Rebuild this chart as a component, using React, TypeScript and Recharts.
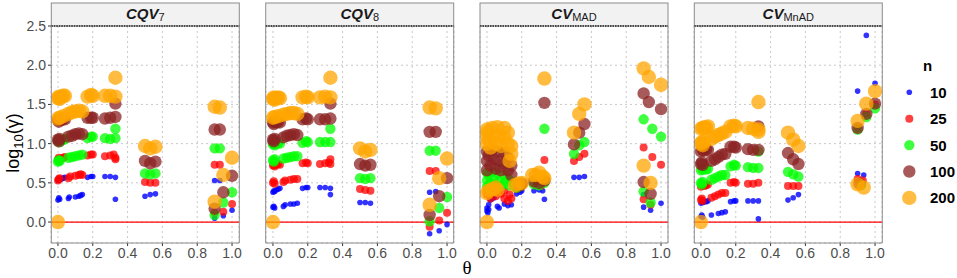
import React from 'react'
import {
  ScatterChart,
  Scatter,
  XAxis,
  YAxis,
  CartesianGrid,
  ReferenceLine,
} from 'recharts'

type Pt = [number, number]

const thetaTicks = [0, 0.2, 0.4, 0.6, 0.8, 1.0]
const logTicks = [0, 0.5, 1.0, 1.5, 2.0, 2.5]
const sampleSizes = [10, 25, 50, 100, 200]

// CQV7
const cqv7N10: Pt[] = [[0,0.53],[0.005,0.55],[0.01,0.54],[0.02,0.55],[0.03,0.56],[0.04,0.57],[0,0.28],[0.005,0.31],[0.01,0.29],[0.06,0.30],[0.065,0.32],[0.1,0.32],[0.12,0.33],[0.13,0.34],[0.14,0.35],[0.17,0.57],[0.19,0.58],[0.2,0.58],[0.27,0.58],[0.3,0.58],[0.33,0.57],[0.33,0.29],[0.5,0.33],[0.53,0.35],[0.56,0.36],[0.9,0.53],[0.93,0.53],[0.9,0.05],[0.95,0.08],[1.0,0.15]]
const cqv7N25: Pt[] = [[0,0.8],[0.005,0.82],[0.01,0.79],[0.02,0.81],[0.03,0.82],[0.04,0.83],[0,0.53],[0.005,0.55],[0.01,0.56],[0.06,0.56],[0.07,0.58],[0.1,0.59],[0.12,0.6],[0.13,0.61],[0.14,0.6],[0.17,0.85],[0.19,0.86],[0.2,0.86],[0.27,0.84],[0.3,0.85],[0.32,0.86],[0.33,0.82],[0.33,0.8],[0.5,0.51],[0.53,0.5],[0.56,0.5],[0.9,0.73],[0.93,0.73],[0.9,0.12],[0.95,0.13],[1.0,0.23]]
const cqv7N50: Pt[] = [[0,1.03],[0.005,1.05],[0.01,1.02],[0.02,1.04],[0.03,1.05],[0.04,1.06],[0,0.77],[0.005,0.79],[0.01,0.78],[0.06,0.82],[0.08,0.83],[0.1,0.84],[0.12,0.85],[0.14,0.86],[0.17,1.07],[0.19,1.09],[0.2,1.09],[0.27,1.07],[0.3,1.06],[0.33,1.07],[0.33,1.19],[0.5,0.62],[0.53,0.61],[0.56,0.62],[0.9,0.94],[0.93,0.94],[0.9,0.09],[0.95,0.25],[1.0,0.38]]
const cqv7N100: Pt[] = [[0,1.3],[0.005,1.28],[0.01,1.31],[0.02,1.3],[0.03,1.32],[0.04,1.31],[0,1.05],[0.005,1.03],[0.01,1.06],[0.06,1.09],[0.08,1.1],[0.1,1.12],[0.12,1.13],[0.14,1.12],[0.17,1.33],[0.19,1.33],[0.2,1.33],[0.27,1.32],[0.3,1.33],[0.33,1.34],[0.33,1.51],[0.5,0.78],[0.53,0.75],[0.56,0.77],[0.9,1.18],[0.93,1.18],[0.9,0.17],[0.95,0.38],[1.0,0.59]]
const cqv7N200: Pt[] = [[0,1.58],[0.005,1.6],[0.01,1.57],[0.02,1.6],[0.03,1.61],[0.04,1.61],[0,1.32],[0.01,1.33],[0.03,1.35],[0.06,1.38],[0.08,1.4],[0.1,1.41],[0.12,1.42],[0.14,1.41],[0.17,1.6],[0.19,1.62],[0.2,1.61],[0.27,1.61],[0.3,1.61],[0.33,1.6],[0.33,1.84],[0,0],[0.5,0.97],[0.53,0.94],[0.56,0.96],[0.9,1.47],[0.93,1.46],[0.9,0.26],[0.95,0.6],[1.0,0.82]]

// CQV8
const cqv8N10: Pt[] = [[0,0.38],[0.005,0.4],[0.01,0.39],[0.02,0.41],[0.03,0.42],[0.04,0.43],[0,0.19],[0.005,0.2],[0.01,0.18],[0.06,0.2],[0.07,0.22],[0.1,0.23],[0.12,0.23],[0.14,0.24],[0.17,0.43],[0.19,0.44],[0.2,0.44],[0.27,0.44],[0.3,0.44],[0.33,0.43],[0.33,0.35],[0.5,0.25],[0.53,0.25],[0.56,0.24],[0.9,0.38],[0.935,0.39],[0.9,-0.15],[0.955,-0.11],[1.0,-0.03]]
const cqv8N25: Pt[] = [[0,0.72],[0.005,0.73],[0.01,0.71],[0.02,0.73],[0.03,0.74],[0.04,0.73],[0,0.5],[0.005,0.52],[0.01,0.49],[0.06,0.51],[0.07,0.53],[0.1,0.54],[0.12,0.55],[0.14,0.55],[0.17,0.75],[0.19,0.76],[0.2,0.75],[0.27,0.74],[0.3,0.75],[0.32,0.76],[0.33,0.8],[0.33,0.74],[0.5,0.42],[0.53,0.41],[0.56,0.4],[0.9,0.65],[0.935,0.65],[0.9,-0.06],[0.955,0.02],[1.0,0.12]]
const cqv8N50: Pt[] = [[0,0.99],[0.005,1.0],[0.01,0.98],[0.02,1.0],[0.03,1.01],[0.04,1.0],[0,0.79],[0.005,0.77],[0.01,0.8],[0.06,0.81],[0.08,0.82],[0.1,0.83],[0.12,0.84],[0.14,0.84],[0.17,1.01],[0.19,1.03],[0.2,1.02],[0.27,1.02],[0.3,1.02],[0.33,1.02],[0.33,1.19],[0.5,0.56],[0.53,0.55],[0.56,0.56],[0.9,0.91],[0.935,0.91],[0.9,0.01],[0.955,0.18],[1.0,0.32]]
const cqv8N100: Pt[] = [[0,1.27],[0.005,1.25],[0.01,1.28],[0.02,1.27],[0.03,1.28],[0.04,1.27],[0,1.05],[0.005,1.03],[0.01,1.06],[0.06,1.08],[0.08,1.1],[0.1,1.11],[0.12,1.12],[0.14,1.11],[0.17,1.31],[0.19,1.32],[0.2,1.31],[0.27,1.31],[0.3,1.31],[0.33,1.32],[0.33,1.51],[0.5,0.74],[0.53,0.72],[0.56,0.73],[0.9,1.15],[0.935,1.15],[0.9,0.09],[0.955,0.33],[1.0,0.56]]
const cqv8N200: Pt[] = [[0,1.57],[0.005,1.59],[0.01,1.56],[0.02,1.58],[0.03,1.59],[0.04,1.58],[0,1.33],[0.01,1.34],[0.03,1.35],[0.06,1.37],[0.08,1.38],[0.1,1.39],[0.12,1.39],[0.14,1.38],[0.17,1.59],[0.19,1.6],[0.2,1.59],[0.27,1.59],[0.3,1.6],[0.33,1.59],[0.33,1.84],[0,0],[0.5,0.94],[0.53,0.9],[0.56,0.92],[0.9,1.46],[0.935,1.45],[0.9,0.22],[0.955,0.56],[1.0,0.81]]

// CV MAD
const madN10: Pt[] = [[0,0.18],[0,0.14],[0.005,0.12],[0.01,0.16],[0.01,0.22],[0.02,0.28],[0.03,0.3],[0.04,0.31],[0.06,0.2],[0.07,0.18],[0.1,0.23],[0.12,0.21],[0.14,0.22],[0.17,0.36],[0.19,0.38],[0.2,0.4],[0.27,0.4],[0.3,0.41],[0.32,0.4],[0.33,0.29],[0.5,0.57],[0.53,0.57],[0.56,0.58],[0.9,0.35],[0.9,0.19],[0.94,0.15],[1.0,0.24]]
const madN25: Pt[] = [[0,0.42],[0,0.35],[0.01,0.4],[0.02,0.3],[0.03,0.38],[0.05,0.33],[0.06,0.42],[0.08,0.36],[0.1,0.3],[0.1,0.4],[0.12,0.27],[0.13,0.35],[0.14,0.3],[0.17,0.42],[0.19,0.44],[0.28,0.47],[0.31,0.46],[0.33,0.79],[0.5,0.78],[0.53,0.83],[0.56,0.87],[0.9,0.95],[0.95,0.83],[1.0,0.73],[0.9,0.29],[0.94,0.22]]
const madN50: Pt[] = [[0,0.63],[0,0.53],[0,0.45],[0.01,0.6],[0.02,0.5],[0.03,0.64],[0.04,0.55],[0.05,0.47],[0.06,0.62],[0.07,0.52],[0.08,0.46],[0.1,0.6],[0.1,0.5],[0.12,0.56],[0.13,0.47],[0.14,0.52],[0.17,0.44],[0.19,0.46],[0.27,0.48],[0.3,0.47],[0.33,0.5],[0.33,1.19],[0.5,0.87],[0.53,0.98],[0.56,1.02],[0.9,1.31],[0.95,1.19],[1.0,1.09],[0.9,0.39],[0.94,0.25]]
const madN100: Pt[] = [[0,0.9],[0,0.78],[0,0.66],[0.01,0.85],[0.02,0.72],[0.03,0.92],[0.04,0.8],[0.05,0.68],[0.06,0.9],[0.07,0.78],[0.08,0.66],[0.1,0.88],[0.1,0.75],[0.12,0.82],[0.12,0.66],[0.14,0.72],[0.14,0.6],[0.19,0.47],[0.2,0.49],[0.27,0.52],[0.3,0.5],[0.33,0.53],[0.33,1.52],[0.5,0.99],[0.53,1.14],[0.56,1.25],[0.9,1.64],[0.93,1.53],[1.0,1.44],[0.9,0.51],[0.94,0.36]]
const madN200: Pt[] = [[0,1.18],[0,1.1],[0,1.0],[0.005,1.15],[0.01,1.05],[0.02,0.95],[0.03,1.2],[0.04,1.12],[0.05,1.0],[0.06,1.21],[0.07,1.1],[0.08,0.97],[0.1,1.2],[0.1,1.08],[0.12,1.14],[0.12,1.0],[0.14,0.97],[0.14,0.87],[0.13,0.78],[0,0.37],[0.01,0.4],[0.03,0.42],[0.05,0.44],[0.06,0.41],[0.16,0.47],[0.18,0.49],[0.2,0.5],[0.26,0.6],[0.28,0.6],[0.3,0.63],[0.32,0.58],[0.33,0.56],[0.33,1.83],[0,0],[0.5,1.14],[0.53,1.38],[0.56,1.5],[0.9,1.96],[0.93,1.85],[1.0,1.75],[0.9,0.72],[0.94,0.5]]

// CV MnAD
const mnadN10: Pt[] = [[0,0.07],[0.005,0.09],[0.01,0.06],[0.06,0.09],[0.1,0.11],[0.12,0.12],[0.14,0.13],[0,0.24],[0.01,0.25],[0.02,0.26],[0.03,0.26],[0.04,0.27],[0.17,0.26],[0.19,0.27],[0.2,0.27],[0.27,0.27],[0.3,0.27],[0.33,0.27],[0.33,0.04],[0.5,0.28],[0.53,0.31],[0.56,0.35],[0.9,1.67],[0.95,2.38],[1.0,1.77],[0.9,0.62],[0.935,0.6]]
const mnadN25: Pt[] = [[0,0.28],[0.005,0.3],[0.01,0.27],[0.06,0.31],[0.08,0.33],[0.1,0.35],[0.12,0.37],[0.14,0.37],[0,0.45],[0.01,0.47],[0.02,0.46],[0.03,0.47],[0.04,0.48],[0.17,0.5],[0.19,0.51],[0.2,0.5],[0.27,0.49],[0.3,0.49],[0.33,0.5],[0.5,0.46],[0.53,0.46],[0.56,0.46],[0.9,0.55],[0.93,0.53],[0.95,1.38],[1.0,1.5],[0.9,1.2]]
const mnadN50: Pt[] = [[0,0.5],[0.005,0.48],[0.01,0.51],[0.06,0.54],[0.08,0.56],[0.1,0.58],[0.12,0.6],[0.14,0.6],[0,0.66],[0.01,0.67],[0.02,0.68],[0.03,0.67],[0.04,0.68],[0.17,0.71],[0.19,0.73],[0.2,0.72],[0.27,0.7],[0.3,0.69],[0.33,0.69],[0.33,0.9],[0.5,0.64],[0.53,0.61],[0.56,0.58],[0.9,1.18],[0.95,1.34],[1.0,1.45],[0.92,0.47]]
const mnadN100: Pt[] = [[0,0.74],[0.005,0.76],[0.01,0.73],[0.06,0.78],[0.08,0.8],[0.1,0.83],[0.12,0.86],[0.14,0.87],[0,0.9],[0.01,0.92],[0.02,0.91],[0.03,0.93],[0.04,0.92],[0.17,0.96],[0.19,0.96],[0.2,0.95],[0.27,0.93],[0.3,0.92],[0.33,0.92],[0.33,1.22],[0.5,0.88],[0.53,0.8],[0.56,0.74],[0.9,1.2],[0.95,1.38],[1.0,1.51],[0.91,0.49]]
const mnadN200: Pt[] = [[0,0],[0,1.0],[0.005,1.02],[0.01,0.98],[0.02,1.03],[0,1.19],[0.01,1.2],[0.02,1.21],[0.03,1.2],[0.04,1.22],[0.06,1.06],[0.08,1.09],[0.1,1.11],[0.12,1.13],[0.14,1.15],[0.17,1.22],[0.19,1.23],[0.2,1.22],[0.27,1.2],[0.3,1.19],[0.33,1.18],[0.33,1.15],[0.33,1.53],[0.5,1.14],[0.53,1.05],[0.56,0.97],[0.9,1.29],[0.95,1.51],[1.0,1.67],[0.9,0.48],[0.935,0.44]]

const facets = [
  { title: 'CQV', sub: '7', series: [cqv7N10, cqv7N25, cqv7N50, cqv7N100, cqv7N200] },
  { title: 'CQV', sub: '8', series: [cqv8N10, cqv8N25, cqv8N50, cqv8N100, cqv8N200] },
  { title: 'CV', sub: 'MAD', series: [madN10, madN25, madN50, madN100, madN200] },
  { title: 'CV', sub: 'MnAD', series: [mnadN10, mnadN25, mnadN50, mnadN100, mnadN200] },
]

const colors = ['#0000ff', '#ff0000', '#00ff00', '#8b2323', '#ffa500']
const radii = [2.8, 4, 5.2, 6.2, 7.2]
const opac = [0.8, 0.75, 0.75, 0.75, 0.75]

const PANEL_W = 188
const PANEL_H = 217
const PANEL_TOP = 26
const panelLefts = [51.3, 265.7, 480, 694.3]
const Y_W = 45
const PAD = 12
const FONT = '"Liberation Sans", Arial, sans-serif'

const Facet = ({ idx }: { idx: number }) => {
  const f = facets[idx]
  const first = idx === 0
  const padL = first ? 0 : PAD
  const yw = first ? Y_W : 0
  return (
    <div style={{ position: 'absolute', left: panelLefts[idx] - yw - padL, top: PANEL_TOP - PAD }}>
      <ScatterChart
        width={PANEL_W + yw + padL + PAD}
        height={PANEL_H + 25 + PAD}
        margin={{ top: PAD, right: PAD, bottom: 0, left: padL }}
      >
        <CartesianGrid stroke="#c8c8c8" strokeDasharray="2 3" />
        <XAxis
          type="number"
          dataKey="x"
          domain={[-0.04, 1.04]}
          ticks={thetaTicks}
          interval={0}
          allowDataOverflow
          axisLine={false}
          tickSize={3}
          tickMargin={2}
          height={25}
          tickLine={{ stroke: '#333' }}
          tickFormatter={(v: number) => v.toFixed(1)}
          tick={{ fill: '#4d4d4d', fontSize: 14, fontFamily: FONT }}
        />
        <YAxis
          type="number"
          dataKey="y"
          domain={[-0.267, 2.5]}
          ticks={logTicks}
          interval={0}
          allowDataOverflow
          hide={!first}
          width={Y_W}
          axisLine={false}
          tickSize={3}
          tickMargin={2}
          tickLine={{ stroke: '#333' }}
          tickFormatter={(v: number) => v.toFixed(1)}
          tick={{ fill: '#4d4d4d', fontSize: 14, fontFamily: FONT }}
        />
        <ReferenceLine y={0} stroke="#ff0000" strokeWidth={1.3} />
        {f.series.map((pts, k) => (
          <Scatter
            key={k}
            data={pts.map(([x, y]) => ({ x, y }))}
            isAnimationActive={false}
            shape={(p: any) => (
              <circle cx={p.cx} cy={p.cy} r={radii[k]} fill={colors[k]} fillOpacity={opac[k]} />
            )}
          />
        ))}
      </ScatterChart>
    </div>
  )
}

const Frame = () => (
  <svg
    width={957}
    height={278}
    style={{ position: 'absolute', left: 0, top: 0, pointerEvents: 'none' }}
  >
    {facets.map((f, i) => {
      const l = panelLefts[i]
      return (
        <g key={i}>
          <rect x={l} y={3} width={PANEL_W} height={PANEL_TOP - 3} fill="#f2f2f2" stroke="#8c8c8c" strokeWidth={1} />
          <line x1={l} x2={l + PANEL_W} y1={PANEL_TOP} y2={PANEL_TOP} stroke="#222" strokeWidth={1.5} strokeDasharray="1.5 1" />
          <path
            d={`M${l},${PANEL_TOP} V${PANEL_TOP + PANEL_H} H${l + PANEL_W} V${PANEL_TOP}`}
            fill="none"
            stroke="#8c8c8c"
            strokeWidth={1}
          />
          <text x={l + PANEL_W / 2} y={19} textAnchor="middle" fontFamily={FONT} fill="#1a1a1a">
            <tspan fontSize={15} fontWeight="bold" fontStyle="italic">{f.title}</tspan>
            <tspan fontSize={11} dy={2}>{f.sub}</tspan>
          </text>
        </g>
      )
    })}
    <text transform="translate(19,143) rotate(-90)" textAnchor="middle" fontFamily={FONT} fontSize={18} fill="#000">
      log<tspan fontSize={13} dy={4}>10</tspan><tspan dy={-4}>(γ)</tspan>
    </text>
    <text x={467} y={274} textAnchor="middle" fontFamily='"Liberation Serif", serif' fontSize={19} fill="#000">θ</text>
    <text x={923} y={71} fontFamily={FONT} fontSize={15} fontWeight="bold" fill="#000">n</text>
    {sampleSizes.map((n, k) => {
      const cy = 92.3 + k * 26.4
      return (
        <g key={n}>
          <circle cx={909.3} cy={cy} r={radii[k]} fill={colors[k]} fillOpacity={opac[k]} />
          <text x={930} y={cy + 5.5} fontFamily={FONT} fontSize={15} fontWeight="bold" fill="#000">{n}</text>
        </g>
      )
    })}
  </svg>
)

export default function App() {
  return (
    <div style={{ position: 'absolute', left: 0, top: 0, width: 957, height: 278, background: '#fff' }}>
      {facets.map((_, i) => (
        <Facet key={i} idx={i} />
      ))}
      <Frame />
    </div>
  )
}
